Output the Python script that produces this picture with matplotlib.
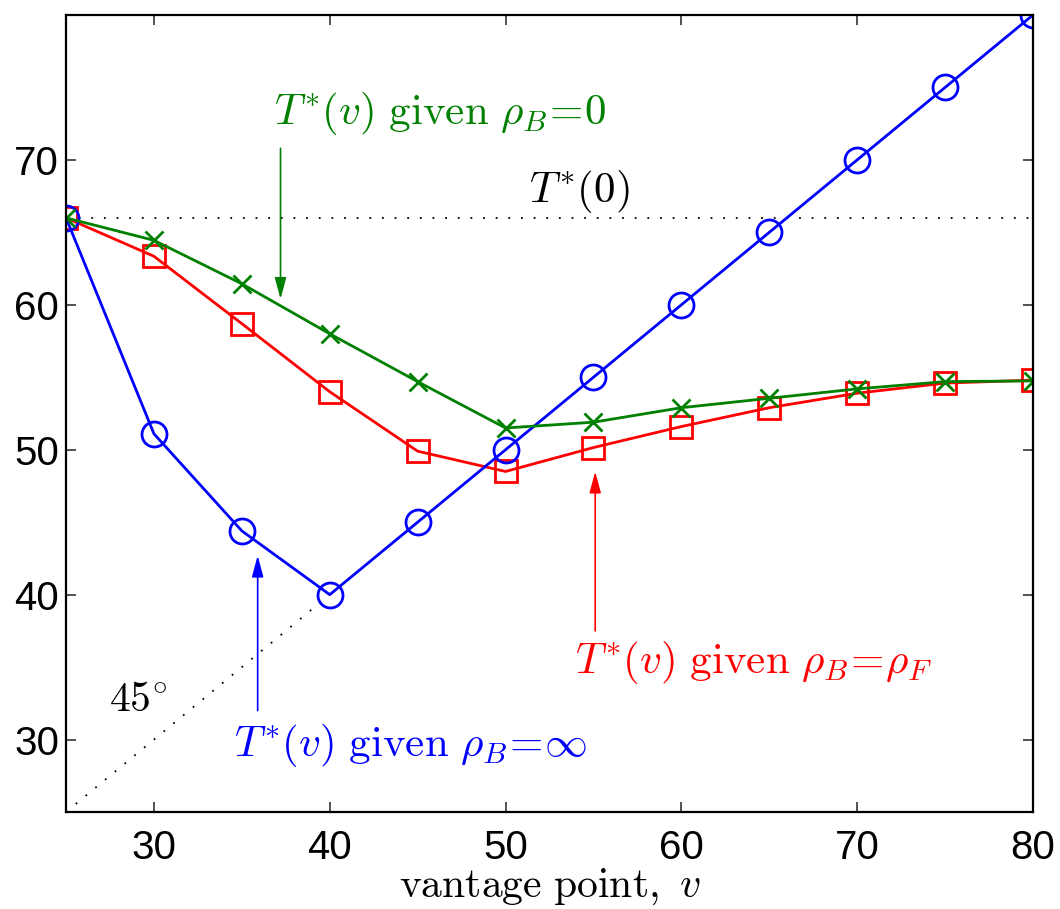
import matplotlib
matplotlib.use("Agg")
import matplotlib.pyplot as plt

plt.rcParams['mathtext.fontset'] = 'cm'
plt.rcParams['font.family'] = ['Liberation Sans', 'DejaVu Sans']

# vantage points
v = [25, 30, 35, 40, 45, 50, 55, 60, 65, 70, 75, 80]
# optimal T*(v) under three assumptions on rho_B
t_inf = [66.0, 51.1, 44.4, 40.0, 45.0, 50.0, 55.0, 60.0, 65.0, 70.0, 75.0, 80.0]
t_rhoF = [66.0, 63.35, 58.7, 54.0, 49.9, 48.5, 50.15, 51.6, 52.9, 53.9, 54.6, 54.8]
t_zero = [66.0, 64.45, 61.45, 58.0, 54.7, 51.5, 51.9, 52.9, 53.55, 54.2, 54.7, 54.75]
t_star0 = 66.0

xticks = [30, 40, 50, 60, 70, 80]
yticks = [30, 40, 50, 60, 70]

fig = plt.figure(figsize=(10.6, 9.09), dpi=100)
ax = fig.add_axes([0.0623, 0.1067, 0.9122, 0.8768])

# reference lines
ax.plot([25, 80], [t_star0, t_star0], ls=(0, (1, 6)), color='k', lw=1.3)
ax.plot([25, 80], [25, 80], ls=(0, (1, 6)), color='k', lw=1.3)

lw = 2.0
ax.plot(v, t_rhoF, color='red', lw=lw, marker='s', ms=15.5, mfc='none', mew=lw)
ax.plot(v, t_inf, color='blue', lw=lw, marker='o', ms=18, mfc='none', mew=lw)
ax.plot(v, t_zero, color='green', lw=lw, marker='x', ms=13, mew=lw)

ax.set_xlim(25, 80)
ax.set_ylim(25, 80)
ax.set_xticks(xticks)
ax.set_yticks(yticks)
ax.tick_params(direction='in', length=7, width=1.2, top=True, right=True,
               labelsize=29, color='#333333')
ax.tick_params(axis='x', pad=12)
ax.tick_params(axis='y', pad=5)
for s in ax.spines.values():
    s.set_linewidth(1.6)
ax.set_xlabel(r'$\mathrm{vantage\ point,}\ v$', fontsize=30, labelpad=0)

tfs = 31
ax.text(46.3, 73.2, r'$T^{*}(v)\ \mathrm{given}\ \rho_B\!=\!0$', color='green',
        fontsize=tfs, ha='center', va='center')
ax.annotate('', xy=(37.2, 60.4), xytext=(37.2, 70.8),
            arrowprops=dict(arrowstyle='-|>,head_length=1.3,head_width=0.35',
                            color='green', lw=1.2, shrinkA=0, shrinkB=0))
ax.text(54.2, 67.8, r'$T^{*}(0)$', color='k', fontsize=tfs, ha='center', va='center')

ax.text(64.1, 35.3, r'$T^{*}(v)\ \mathrm{given}\ \rho_B\!=\!\rho_F$', color='red',
        fontsize=tfs, ha='center', va='center')
ax.annotate('', xy=(55.1, 48.5), xytext=(55.1, 37.5),
            arrowprops=dict(arrowstyle='-|>,head_length=1.3,head_width=0.35',
                            color='red', lw=1.2, shrinkA=0, shrinkB=0))

ax.text(44.6, 29.6, r'$T^{*}(v)\ \mathrm{given}\ \rho_B\!=\!\infty$', color='blue',
        fontsize=tfs, ha='center', va='center')
ax.annotate('', xy=(35.9, 42.7), xytext=(35.9, 32.0),
            arrowprops=dict(arrowstyle='-|>,head_length=1.3,head_width=0.35',
                            color='blue', lw=1.2, shrinkA=0, shrinkB=0))

ax.text(29.1, 32.7, r'$45^{\circ}$', color='k', fontsize=30, ha='center', va='center')

fig.savefig('out.png', dpi=100)
